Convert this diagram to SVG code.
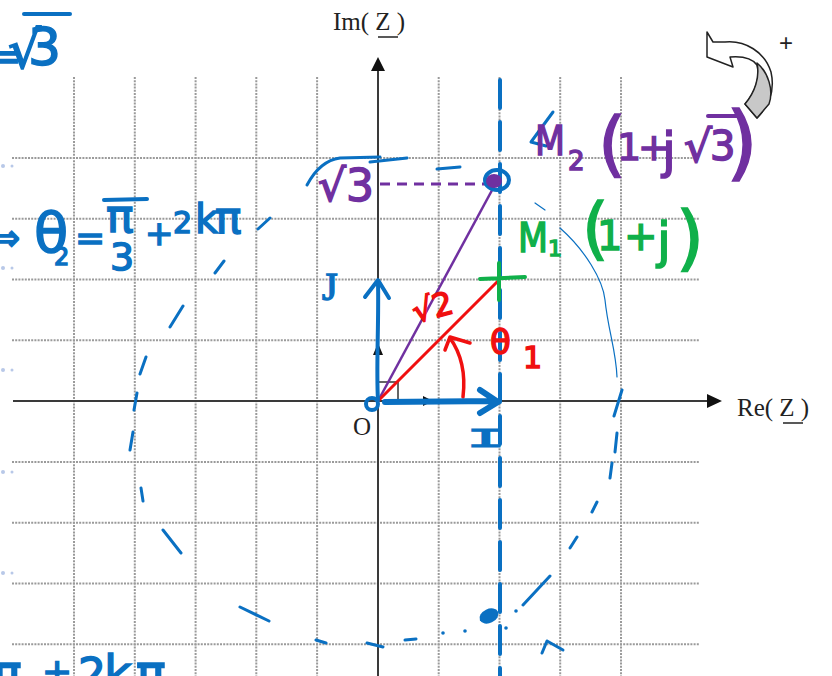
<svg xmlns="http://www.w3.org/2000/svg" width="832" height="676" viewBox="0 0 832 676">
<style>
.grid{stroke:#9a9a9a;stroke-width:2;stroke-dasharray:2 1.2;fill:none}
.axis{stroke:#3a3a3a;stroke-width:2;fill:none}
.lbl{font-family:"Liberation Serif",serif;font-size:25px;fill:#222}
.b{stroke:#0a70c2;fill:none;stroke-linecap:round;stroke-linejoin:round}
.bt{font-family:"DejaVu Sans","Liberation Sans",sans-serif;fill:#0a70c2;stroke:#0a70c2;stroke-width:1.5}
.bs{font-family:"Liberation Serif",serif;fill:#0a70c2;stroke:#0a70c2;stroke-width:1.5}
.pt{font-family:"DejaVu Sans","Liberation Sans",sans-serif;fill:#7030a0;stroke:#7030a0;stroke-width:1.5}
.gt{font-family:"DejaVu Sans","Liberation Sans",sans-serif;fill:#10b04a;stroke:#10b04a;stroke-width:1.5}
.rt{font-family:"DejaVu Sans","Liberation Sans",sans-serif;fill:#f01010;stroke:#f01010;stroke-width:1.5}
</style>
<rect width="832" height="676" fill="#fff"/>
<g id="grid">
<path class="grid" d="M74,77V676M134.8,77V676M195.6,77V676M256.3,77V676M317.1,77V676M438.7,77V676M499.5,77V676M560.2,77V676M621,77V676"/>
<path class="grid" d="M12,158H700M12,218.8H700M12,279.6H700M12,340.3H700M12,461.9H700M12,522.7H700M12,583.5H700M12,644.2H700"/>
<g fill="#b8c8e8"><circle cx="3" cy="166" r="2"/><circle cx="12" cy="166" r="1.5"/><circle cx="3" cy="268" r="2"/><circle cx="12" cy="268" r="1.5"/><circle cx="3" cy="370" r="2"/><circle cx="12" cy="370" r="1.5"/><circle cx="3" cy="472" r="2"/><circle cx="12" cy="472" r="1.5"/><circle cx="3" cy="573" r="2"/><circle cx="12" cy="573" r="1.5"/></g>
</g>
<g id="axes">
<path class="axis" d="M13,401H710M378,676V68"/>
<path d="M722,401L707,394L707,408Z M378,57L371,71L385,71Z" fill="#111"/>
<path d="M433,401L423,396L423,406Z M378,343L373,355L383,355Z" fill="#111"/>
<path d="M378,382H398V401" stroke="#333" stroke-width="1.5" fill="none"/>
<text class="lbl" x="737" y="416">Re( Z )</text>
<path d="M783,423H803" stroke="#222" stroke-width="1.5"/>
<text class="lbl" x="333" y="30">Im( Z )</text>
<path d="M378,37H398" stroke="#222" stroke-width="1.5"/>
<text class="lbl" x="353" y="435">O</text>
</g>
<g id="rotation-sign">
<path d="M707,32L713,42L725,42C745,40 765,52 771,72C775,90 770,105 757,118L745,104C756,92 760,77 757,65C752,58 742,56 730,57L733,67L707,57Z" fill="#fff" stroke="#222" stroke-width="1.5" stroke-linejoin="round"/>
<path d="M757,63C768,72 774,90 769,104L757,118L745,104C755,92 760,77 757,63Z" fill="#c8c8c8" stroke="#222" stroke-width="1.5" stroke-linejoin="round"/>
<text x="779" y="51" font-family="Liberation Sans,sans-serif" font-size="24" fill="#222">+</text>
</g>
<g id="connectors">
<path class="b" stroke-width="3" d="M137,393L134,410 M140,374L146,357 M170,327L183,306 M215,273L224,261 M258,229L270,218 M130,450L133,432 M141,488L143,501 M163,530L181,553 M240,607L269,621 M316,640L326,643 M367,643L383,647 M405,640L416,639 M523,605L550,576 M570,548L577,537 M592,512L597,502 M610,478L612,463 M615,452L617,433 M614,416L622,390"/>
<g fill="#0a70c2"><circle cx="443" cy="633" r="1.8"/><circle cx="465" cy="631" r="1.8"/><circle cx="506" cy="628" r="1.8"/><circle cx="516" cy="611" r="1.8"/></g>
<ellipse cx="489" cy="616" rx="10" ry="7" transform="rotate(-25 489 616)" fill="#0a70c2"/>
<path class="b" stroke-width="3" d="M542,653L547,641L563,650"/>
<path class="b" stroke-width="1.2" d="M560,228C585,250 603,280 605,300C608,330 616,350 617,377 M535,203L545,210"/>
<path class="b" stroke-width="4" stroke-dasharray="28 14" d="M500,80V676"/>
<path d="M378,401L497,181" stroke="#7030a0" stroke-width="2.5" fill="none"/>
<path d="M380,184H485" stroke="#7030a0" stroke-width="3" stroke-dasharray="10 7" fill="none"/>
<path d="M378,401L498,281" stroke="#f01010" stroke-width="3" fill="none"/>
<path d="M463,397C466,372 460,352 450,338 M445,350L450,337L470,343" stroke="#f01010" stroke-width="3.5" fill="none" stroke-linecap="round" stroke-linejoin="round"/>
<path class="b" stroke-width="4" d="M378,400C376,370 379,320 378,282 M365,297L378,280L389,298"/>
<path class="b" stroke-width="6" d="M385,402L496,401 M480,390L498,402L480,413"/>
<circle cx="372" cy="404" r="6" class="b" stroke-width="4"/>
</g>
<g id="point-M1">
<path d="M480,279L525,277 M499,263V300" stroke="#10b04a" stroke-width="4" stroke-linecap="round"/>
<text class="gt" x="518" y="252" font-size="40" textLength="30" lengthAdjust="spacingAndGlyphs">M</text>
<text class="gt" x="548" y="256" font-size="22">1</text>
<text class="gt" x="582" y="252" font-size="68">(</text>
<text class="gt" x="597" y="250" font-size="40">1</text>
<text class="gt" x="624" y="250" font-size="40">+</text>
<text class="gt" x="657" y="258" font-size="50">j</text>
<text class="gt" x="676" y="262" font-size="72">)</text>
</g>
<g id="point-M2">
<ellipse cx="497" cy="180" rx="12" ry="10" class="b" stroke-width="4"/>
<ellipse cx="494" cy="181" rx="8" ry="7" fill="#7030a0"/>
<path class="b" stroke-width="3" d="M553,112L531,142L546,146"/>
<text class="pt" x="535" y="155" font-size="40" textLength="30" lengthAdjust="spacingAndGlyphs">M</text>
<text class="pt" x="568" y="170" font-size="26">2</text>
<text class="pt" x="598" y="168" font-size="72">(</text>
<text class="pt" x="617" y="160" font-size="38">1</text>
<text class="pt" x="638" y="160" font-size="38">+</text>
<text class="pt" x="662" y="168" font-size="50">j</text>
<text class="pt" x="684" y="162" font-size="44">√</text>
<path d="M708,116H738" stroke="#7030a0" stroke-width="4" stroke-linecap="round"/>
<text class="pt" x="710" y="160" font-size="40">3</text>
<text class="pt" x="726" y="170" font-size="82">)</text>
</g>
<g id="label-sqrt3">
<path class="b" stroke-width="3" d="M307,185C315,170 325,160 340,158L380,157 M370,162L407,158 M437,169L460,167"/>
<text class="pt" x="318" y="201" font-size="44">√3</text>
</g>
<g id="label-sqrt2">
<text class="rt" x="410" y="320" font-size="32" transform="rotate(-15 425 300)">√2</text>
</g>
<g id="label-theta1">
<text class="rt" x="490" y="354" font-size="34">θ</text>
<text class="rt" x="523" y="368" font-size="30">1</text>
</g>
<g id="label-J">
<text class="bs" x="322" y="300" font-size="40">J</text>
</g>
<g id="label-I">
<text x="0" y="0" font-size="30" font-family="Liberation Mono,monospace" fill="#0a70c2" stroke="#0a70c2" stroke-width="1.2" transform="translate(466,447) scale(2.2,0.95)">I</text>
</g>
<g id="formula-top">
<text class="bt" x="-12" y="70" font-size="40">=</text>
<text class="bt" x="8" y="68" font-size="52">√</text>
<path class="b" stroke-width="4" d="M24,14L70,14"/>
<text class="bt" x="28" y="65" font-size="52">3</text>
</g>
<g id="formula-theta2">
<text class="bt" x="-10" y="250" font-size="36">⇒</text>
<text class="bt" x="34" y="252" font-size="56">θ</text>
<text class="bt" x="54" y="265" font-size="24">2</text>
<text class="bt" x="75" y="250" font-size="36">=</text>
<text class="bt" x="106" y="232" font-size="46">π</text>
<path class="b" stroke-width="4" d="M104,200L147,199"/>
<text class="bt" x="110" y="270" font-size="38">3</text>
<text class="bt" x="145" y="245" font-size="34">+</text>
<text class="bt" x="173" y="233" font-size="30">2</text>
<text class="bt" x="195" y="233" font-size="40">k</text>
<text class="bt" x="215" y="233" font-size="44">π</text>
</g>
<g id="formula-bottom">
<text class="bt" x="-8" y="690" font-size="50">π</text>
<text class="bt" x="42" y="684" font-size="36">+</text>
<text class="bt" x="78" y="690" font-size="44">2</text>
<text class="bt" x="104" y="690" font-size="48">k</text>
<text class="bt" x="136" y="690" font-size="50">π</text>
</g>
</svg>
